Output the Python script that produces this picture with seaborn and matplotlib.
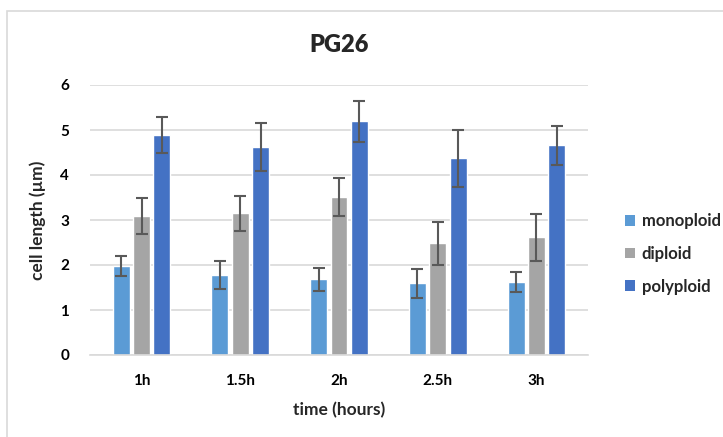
import numpy as np
import pandas as pd
import matplotlib
matplotlib.use("Agg")
import matplotlib.pyplot as plt
import seaborn as sns
from matplotlib.patches import Rectangle, Patch

# values
times = ["1h", "1.5h", "2h", "2.5h", "3h"]
ploidy = ["monoploid", "diploid", "polyploid"]
monoploid = [1.98, 1.77, 1.68, 1.59, 1.63]
diploid = [3.08, 3.15, 3.51, 2.48, 2.62]
polyploid = [4.89, 4.63, 5.19, 4.37, 4.66]
monoploid_err = [0.23, 0.31, 0.25, 0.33, 0.22]
diploid_err = [0.40, 0.39, 0.43, 0.47, 0.52]
polyploid_err = [0.39, 0.53, 0.46, 0.64, 0.43]

palette = ["#5B9BD5", "#A5A5A5", "#4472C4"]

df = pd.DataFrame({
    "time": times * 3,
    "type": [p for p in ploidy for _ in times],
    "length": monoploid + diploid + polyploid,
    "err": monoploid_err + diploid_err + polyploid_err,
})

sns.set_style("white")
plt.rcParams["font.family"] = ["Lato", "DejaVu Sans"]

fig = plt.figure(figsize=(7.23, 4.37), dpi=100)
ax = fig.add_axes([90 / 723, 1 - 355 / 437, 498 / 723, 270 / 437])

sns.barplot(data=df, x="time", y="length", hue="type", palette=palette,
            ax=ax, width=0.62, gap=0.17, errorbar=None, saturation=1,
            legend=False)

# error bars at bar centres
for container, name in zip(ax.containers, ploidy):
    sub = df[df["type"] == name]
    xs = [r.get_x() + r.get_width() / 2 for r in container]
    ax.errorbar(xs, sub["length"], yerr=sub["err"], fmt="none",
                ecolor="#595959", elinewidth=1.5, capsize=4, capthick=1.5,
                zorder=3)

ax.set_ylim(0, 6)
ax.set_yticks(range(7))
ax.yaxis.grid(True, color="#D9D9D9", linewidth=1.2)
ax.set_axisbelow(True)
sns.despine(ax=ax, left=True, top=True, right=True)
ax.spines["bottom"].set_color("#D9D9D9")
ax.spines["bottom"].set_linewidth(1.2)
ax.tick_params(axis="both", length=0, labelsize=11, colors="#000000", pad=15)
ax.tick_params(axis="x", pad=14)
for lab in ax.get_xticklabels() + ax.get_yticklabels():
    lab.set_fontweight("bold")

ax.set_xlabel("time (hours)", fontsize=12.5, fontweight="bold", labelpad=10)
ax.set_ylabel("cell length (µm)", fontsize=12.5, fontweight="bold", labelpad=10)
ax.set_title("PG26", fontsize=17, fontweight="heavy", pad=24)

handles = [Patch(facecolor=c, edgecolor="none") for c in palette]
fig.legend(handles, ploidy, loc="center left",
           bbox_to_anchor=(610 / 723, 1 - 254 / 437), frameon=False,
           prop={"weight": "bold", "size": 12}, handlelength=0.6,
           handleheight=0.6, handletextpad=0.4, labelspacing=1.0)

# light frame of the chart area
fig.patches.append(Rectangle((7 / 723, -0.1), 1.2, 1 - 11 / 437 + 0.1,
                             transform=fig.transFigure, fill=False,
                             edgecolor="#D9D9D9", linewidth=1.2))

fig.savefig("out.png", dpi=100)
